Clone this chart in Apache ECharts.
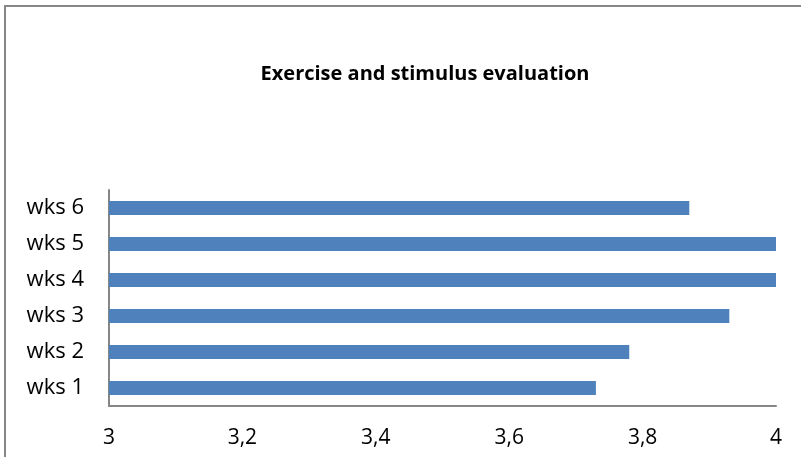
<!DOCTYPE html>
<html>
<head>
<meta charset="utf-8">
<script src="https://cdn.jsdelivr.net/npm/echarts@6/dist/echarts.min.js"></script>
<style>
  html, body { margin: 0; padding: 0; background: #fff; }
  #chart { width: 801px; height: 457px; }
</style>
</head>
<body>
<div id="chart"></div>
<script>
// Weekly evaluation scores (wks 1 at the bottom, wks 6 at the top)
const weeks = ['wks 1', 'wks 2', 'wks 3', 'wks 4', 'wks 5', 'wks 6'];
const scores = [3.73, 3.78, 3.93, 4.0, 4.0, 3.87];
const xTicks = [3, 3.2, 3.4, 3.6, 3.8, 4];

const FONT = '"Open Sans", "Liberation Sans", sans-serif';
const AXIS_GRAY = '#868686';

const chart = echarts.init(document.getElementById('chart'), null, { renderer: 'canvas' });

chart.setOption({
  animation: false,
  backgroundColor: '#ffffff',
  title: {
    text: 'Exercise and stimulus evaluation',
    left: 420,
    top: 59,
    textAlign: 'center',
    textStyle: { fontFamily: FONT, fontWeight: 'bold', fontSize: 20, color: '#000' }
  },
  graphic: [
    { type: 'line', shape: { x1: 4, y1: 6, x2: 801, y2: 6 }, style: { stroke: AXIS_GRAY, lineWidth: 2 } },
    { type: 'line', shape: { x1: 5, y1: 5, x2: 5, y2: 457 }, style: { stroke: AXIS_GRAY, lineWidth: 2 } }
  ],
  grid: { left: 109, right: 25, top: 190, bottom: 51, containLabel: false },
  xAxis: {
    type: 'value',
    min: xTicks[0],
    max: xTicks[xTicks.length - 1],
    interval: 0.2,
    axisLine: { show: true, lineStyle: { color: AXIS_GRAY, width: 2 } },
    axisTick: { show: false },
    splitLine: { show: false },
    axisLabel: {
      margin: 22,
      fontFamily: FONT,
      fontSize: 21,
      color: '#000',
      formatter: v => {
        const t = xTicks.find(x => Math.abs(x - v) < 1e-6);
        return t === undefined ? '' : String(t).replace('.', ',');
      }
    }
  },
  yAxis: {
    type: 'category',
    data: weeks,
    axisLine: { show: true, lineStyle: { color: AXIS_GRAY, width: 2 } },
    axisTick: { show: false },
    axisLabel: { margin: 25, fontFamily: FONT, fontSize: 22, color: '#000' }
  },
  series: [{
    type: 'bar',
    data: scores,
    barWidth: 14,
    itemStyle: { color: '#4F81BD' }
  }]
});
</script>
</body>
</html>
